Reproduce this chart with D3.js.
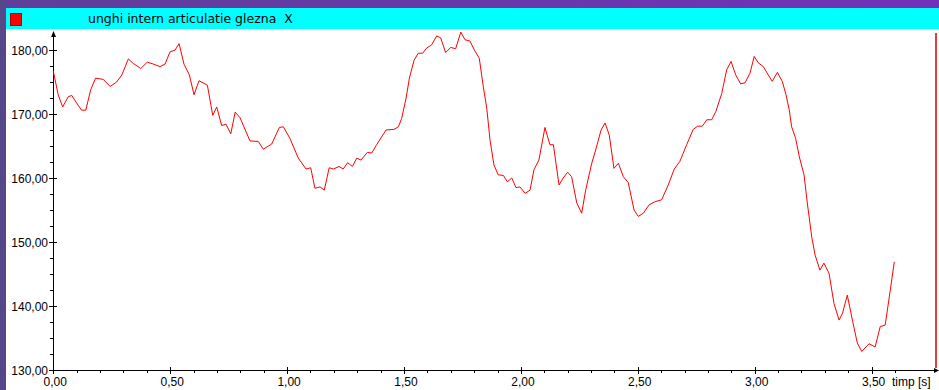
<!DOCTYPE html>
<html><head><meta charset="utf-8">
<script src="https://cdn.jsdelivr.net/npm/d3@7"></script>
<style>html,body{margin:0;padding:0;overflow:hidden;background:#6a3fa5}</style>
</head><body>
<script>
const title = "unghi intern articulatie glezna  X";
const xLabel = "timp [s]";
const xTicks = [0, 0.5, 1.0, 1.5, 2.0, 2.5, 3.0, 3.5];
const yTicks = [130, 140, 150, 160, 170, 180];
const times = [0.000,0.021,0.040,0.064,0.079,0.100,0.121,0.139,0.160,0.181,0.214,0.243,0.271,0.293,0.321,0.342,0.374,0.402,0.428,0.456,0.478,0.499,0.521,0.538,0.559,0.582,0.602,0.623,0.659,0.682,0.699,0.720,0.739,0.759,0.778,0.799,0.841,0.877,0.898,0.934,0.967,0.984,1.012,1.048,1.081,1.101,1.119,1.141,1.159,1.180,1.198,1.222,1.240,1.259,1.279,1.298,1.316,1.343,1.362,1.383,1.423,1.457,1.476,1.490,1.509,1.523,1.543,1.561,1.580,1.597,1.618,1.640,1.657,1.678,1.700,1.721,1.743,1.761,1.782,1.801,1.822,1.839,1.854,1.868,1.885,1.903,1.925,1.942,1.961,1.979,1.996,2.018,2.039,2.056,2.077,2.103,2.124,2.139,2.163,2.181,2.200,2.217,2.239,2.260,2.277,2.303,2.320,2.343,2.360,2.378,2.398,2.417,2.438,2.459,2.484,2.502,2.524,2.548,2.574,2.602,2.630,2.656,2.680,2.709,2.737,2.756,2.776,2.795,2.816,2.834,2.859,2.880,2.899,2.919,2.940,2.959,2.980,2.998,3.015,3.037,3.058,3.075,3.097,3.118,3.134,3.148,3.158,3.175,3.191,3.211,3.225,3.244,3.258,3.279,3.296,3.318,3.339,3.361,3.376,3.396,3.419,3.439,3.458,3.489,3.515,3.537,3.558,3.580,3.597];
const angles = [176.7,173.0,171.1,172.7,172.9,171.7,170.6,170.6,173.8,175.6,175.4,174.3,175.0,176.1,178.6,177.9,177.1,178.1,177.8,177.4,177.8,179.7,180.0,181.0,177.8,176.1,173.0,175.2,174.5,169.8,171.1,168.2,168.4,166.9,170.3,169.4,165.8,165.7,164.5,165.3,167.9,168.0,166.2,163.1,161.4,161.6,158.4,158.6,158.1,161.6,161.4,161.8,161.4,162.4,161.8,163.1,162.8,164.0,163.9,165.2,167.5,167.6,168.0,169.3,172.5,175.6,178.4,179.5,179.5,180.3,180.8,182.2,181.9,179.6,180.4,180.2,182.8,181.6,181.4,180.0,178.7,174.3,170.9,165.9,162.0,160.5,160.4,159.4,160.0,158.5,158.6,157.6,158.1,161.3,162.8,167.9,165.2,165.2,158.9,160.0,160.9,160.2,156.1,154.5,158.1,162.3,164.4,167.5,168.6,166.7,161.5,162.3,160.2,159.3,155.0,154.0,154.5,155.8,156.3,156.6,158.9,161.4,162.6,165.2,167.6,168.1,168.1,169.1,169.1,170.4,173.2,176.9,178.2,176.1,174.7,174.9,176.4,179.0,178.0,177.4,176.1,175.1,176.5,175.1,173.0,170.6,168.0,166.2,163.3,160.5,156.1,150.8,148.0,145.6,146.7,145.1,140.4,137.8,138.9,141.7,137.6,134.2,132.9,134.1,133.6,136.8,137.0,142.5,146.9];

const W = 939, H = 390;
const svg = d3.select("body").append("svg").attr("width", W).attr("height", H)
  .style("display","block");

const defs = svg.append("defs");
const bg = defs.append("linearGradient").attr("id","bg").attr("x1","0").attr("y1","0").attr("x2","1").attr("y2","1");
bg.append("stop").attr("offset","0").attr("stop-color","#5d3f98");
bg.append("stop").attr("offset","0.5").attr("stop-color","#7232b8");
bg.append("stop").attr("offset","1").attr("stop-color","#6a35b0");
svg.append("rect").attr("width",W).attr("height",H).attr("fill","url(#bg)");
svg.append("rect").attr("x",0).attr("y",0).attr("width",6).attr("height",H).attr("fill","#56478a");

// panel
svg.append("rect").attr("x",6).attr("y",29).attr("width",W-6).attr("height",H-29).attr("fill","#ffffff");
svg.append("rect").attr("x",6).attr("y",8).attr("width",W-6).attr("height",21).attr("fill","#00ffff");
svg.append("rect").attr("x",10.5).attr("y",13.5).attr("width",11).attr("height",12).attr("fill","#ff0000").attr("stroke","#b00000").attr("stroke-width",1);
svg.append("text").attr("x",88).attr("y",23).text(title)
  .style("white-space","pre").attr("xml:space","preserve")
  .attr("font-family","DejaVu Sans, Verdana, sans-serif").attr("font-size",12.5).attr("fill","#000");

const x = d3.scaleLinear().domain([0, 3.5]).range([53.3, 871.6]);
const y = d3.scaleLinear().domain([130, 180]).range([370, 50]);

const axisColor = "#000";
const g = svg.append("g").attr("font-family","Liberation Sans, Arial, sans-serif").attr("font-size",12);

// y axis line with arrow
g.append("line").attr("x1",53.5).attr("x2",53.5).attr("y1",370).attr("y2",33).attr("stroke",axisColor);
g.append("path").attr("d","M53.5,31 L51,37 L56,37 Z").attr("fill",axisColor);
// x axis line with arrow
g.append("line").attr("x1",53).attr("x2",937).attr("y1",370.5).attr("y2",370.5).attr("stroke",axisColor);
g.append("path").attr("d","M939,370.5 L934,368 L934,373 Z").attr("fill",axisColor);

// y ticks
const yMinor = d3.range(130, 182.5, 2.5).filter(v => yTicks.indexOf(v) < 0);
g.selectAll(".ymin").data(yMinor).join("line")
  .attr("x1",50).attr("x2",53).attr("y1",d=>Math.round(y(d))+0.5).attr("y2",d=>Math.round(y(d))+0.5).attr("stroke",axisColor);
g.selectAll(".ymaj").data(yTicks).join("line")
  .attr("x1",49).attr("x2",57).attr("y1",d=>Math.round(y(d))+0.5).attr("y2",d=>Math.round(y(d))+0.5).attr("stroke",axisColor);
const fmt = v => v.toFixed(2).replace(".", ",");
g.selectAll(".ylab").data(yTicks).join("text")
  .attr("x",48).attr("y",d=>y(d)+4.5).attr("text-anchor","end").attr("fill","#000").text(fmt);

// x ticks
const xMinor = d3.range(0, 37).map(i => i/10).filter(v => !xTicks.some(t => Math.abs(t-v)<1e-6));
g.selectAll(".xmin").data(xMinor).join("line")
  .attr("x1",d=>Math.round(x(d))+0.5).attr("x2",d=>Math.round(x(d))+0.5).attr("y1",370).attr("y2",373).attr("stroke",axisColor);
g.selectAll(".xmaj").data(xTicks).join("line")
  .attr("x1",d=>Math.round(x(d))+0.5).attr("x2",d=>Math.round(x(d))+0.5).attr("y1",367).attr("y2",374).attr("stroke",axisColor);
g.selectAll(".xlab").data(xTicks).join("text")
  .attr("x",d=>x(d)+2).attr("y",386).attr("text-anchor","middle").attr("fill","#000").text(fmt);
g.append("text").attr("x",892).attr("y",386).attr("fill","#000").text(xLabel);

// cursor line
svg.append("line").attr("x1",936).attr("x2",936).attr("y1",33).attr("y2",368).attr("stroke","#cc0000").attr("stroke-width",1.5);

// data line
const data = times.map((t,i)=>({t, v: angles[i]}));
svg.append("path").datum(data)
  .attr("fill","none").attr("stroke","#ff0000").attr("stroke-width",1)
  .attr("d", d3.line().x(d=>x(d.t)).y(d=>y(d.v)));
</script>
</body></html>
